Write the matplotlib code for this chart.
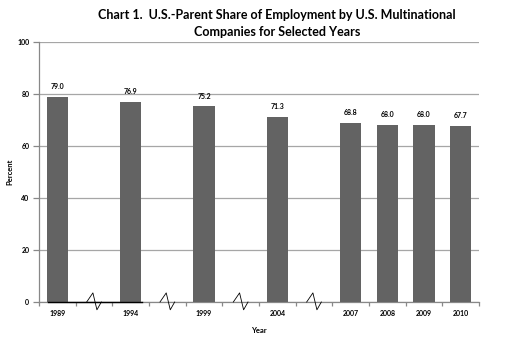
import matplotlib
matplotlib.use("Agg")
import matplotlib.pyplot as plt
import matplotlib.transforms as mtransforms

years = ["1989", "1994", "1999", "2004", "2007", "2008", "2009", "2010"]
shares = [79.0, 76.9, 75.2, 71.3, 68.8, 68.0, 68.0, 67.7]
# category slots (gaps = break markers between non-consecutive years)
slots = [0, 2, 4, 6, 8, 9, 10, 11]
break_slots = [1, 3, 5, 7]

plt.rcParams['font.family'] = ['Lato', 'DejaVu Sans']

fig = plt.figure(figsize=(5.14, 3.48), dpi=100)
ax = fig.add_axes([39/514, 1-302/348, 440/514, 260/348])

bar_color = '#636363'
ax.bar(slots, shares, width=0.58, color=bar_color, zorder=3)
for s, v in zip(slots, shares):
    ax.text(s, v + 2.6, f"{v:.1f}", ha='center', va='bottom', fontsize=5,
            fontweight='bold', color='black')

ax.set_xlim(-0.5, 11.5)
ax.set_ylim(0, 100)
ax.set_yticks([0, 20, 40, 60, 80, 100])
ax.set_yticklabels(['0', '20', '40', '60', '80', '100'], fontsize=5, fontweight='bold')
ax.yaxis.grid(True, color='#a6a6a6', linewidth=0.9, zorder=0)
ax.set_axisbelow(True)
ax.tick_params(axis='y', length=4, color='#888888', width=0.9, pad=3)

ax.set_xticks(slots)
ax.set_xticklabels(years, fontsize=5, fontweight='bold')
ax.tick_params(axis='x', length=0, pad=6)
# minor ticks at category boundaries
ax.set_xticks([i - 0.5 for i in range(13)], minor=True)
ax.tick_params(axis='x', which='minor', length=3, color='#888888', width=0.9)

for side in ['top', 'right']:
    ax.spines[side].set_visible(False)
ax.spines['left'].set_color('#888888')
ax.spines['bottom'].set_color('#888888')
ax.spines['left'].set_linewidth(0.9)
ax.spines['bottom'].set_linewidth(0.9)

# axis break markers (zigzag)
trans = mtransforms.blended_transform_factory(ax.transData, ax.transAxes)
for b in break_slots:
    xs = [b - 0.2, b - 0.03, b + 0.08, b + 0.2]
    ys = [0.0, 0.035, -0.03, 0.0]
    ax.plot(xs, ys, color='black', linewidth=0.6, transform=trans,
            clip_on=False, zorder=5)
# dark baseline segment
ax.plot([-0.25, 2.3], [0, 0], color='black', linewidth=1.0, zorder=4, clip_on=False)

ax.set_xlabel('Year', fontsize=5.5, fontweight='bold')
ax.xaxis.set_label_coords(0.5, -0.095)
ax.set_ylabel('Percent', fontsize=5.5, fontweight='bold')
ax.yaxis.set_label_coords(-0.059, 0.5)

fig.text(277/514, 1-15/348, 'Chart 1.  U.S.-Parent Share of Employment by U.S. Multinational',
         ha='center', va='center', fontsize=9, fontweight='bold')
fig.text(277/514, 1-32/348, 'Companies for Selected Years',
         ha='center', va='center', fontsize=9, fontweight='bold')

fig.savefig('out.png', dpi=100)
